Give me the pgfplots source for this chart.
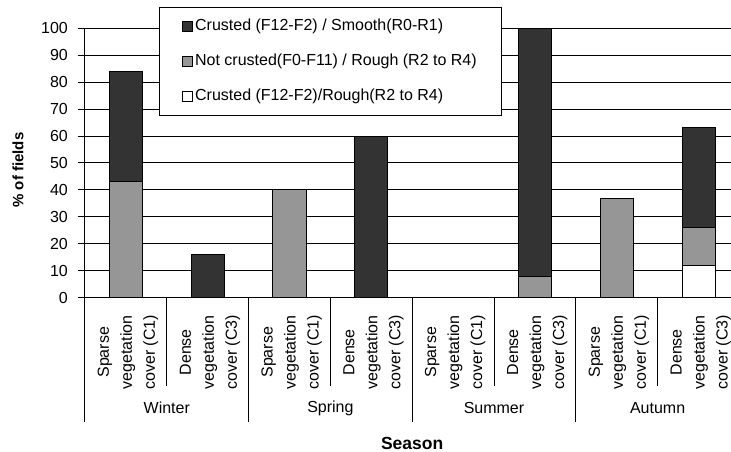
\documentclass[border=0pt]{standalone}
\usepackage{pgfplots}
\pgfplotsset{compat=1.18}
\usepackage{fontspec}
\setmainfont{Liberation Sans}
\definecolor{darkbar}{HTML}{333333}
\definecolor{greybar}{HTML}{969696}
\newcommand{\tl}[2]{\begin{tabular}{@{}c@{}}#1\\vegetation\\cover (#2)\end{tabular}}

\begin{document}
\begin{tikzpicture}[font=\fontsize{16}{19}\selectfont]
\begin{axis}[
  name=a,
  width=654.4pt, height=269.4pt, scale only axis,
  xmin=-0.5, xmax=7.5, ymin=0, ymax=100,
  clip=false,
  ybar stacked, bar width=33pt,
  axis x line*=bottom, axis y line*=left,
  axis line style={-, line width=1pt, black},
  xtick={0,...,7},
  xticklabels={
    {\tl{Sparse}{C1}},
    {\tl{Dense}{C3}},
    {\tl{Sparse}{C1}},
    {\tl{Dense}{C3}},
    {\tl{Sparse}{C1}},
    {\tl{Dense}{C3}},
    {\tl{Sparse}{C1}},
    {\tl{Dense}{C3}}},
  xtick style={draw=none},
  xticklabel style={xshift=1.5pt, yshift=-10pt, rotate=90, anchor=east, inner sep=0pt,
    font=\fontsize{16}{23}\selectfont},
  ytick={0,10,...,100},
  ytick style={line width=1pt, black},
  tick align=outside, major tick length=7pt,
  yticklabel style={font=\fontsize{16}{19}\selectfont, inner sep=2pt, xshift=-8pt},
  /pgf/number format/assume math mode=true,
  ymajorgrids, grid style={line width=1pt, black},
  ylabel={\% of fields},
  ylabel style={at={(axis description cs:-0.1024,0.474)}, anchor=center, rotate=0,
    font=\fontsize{15}{18}\selectfont\bfseries},
  xlabel={Season},
  xlabel style={at={(axis description cs:0.5,-0.54)}, anchor=center,
    font=\fontsize{17.5}{20}\selectfont\bfseries},
  legend style={at={(axis description cs:0.113,1.079)}, anchor=north west,
    draw=black, line width=0.8pt, fill=white,
    inner xsep=23pt, inner ysep=9pt, row sep=15pt,
    nodes={inner sep=2pt, text height=12pt, text depth=4pt},
    font=\fontsize{16}{19}\selectfont},
  legend cell align=left,
  reverse legend,
  legend image code/.code={\draw[#1, line width=0.8pt] (0pt,-5pt) rectangle (10pt,5pt);},
]
\addplot[fill=white, draw=black, line width=1pt] coordinates
  {(0,0) (1,0) (2,0) (3,0) (4,0) (5,0) (6,0) (7,12)};
\addlegendentry{Crusted (F12-F2)/Rough(R2 to R4)}
\addplot[fill=greybar, draw=black, line width=1pt] coordinates
  {(0,43) (1,0) (2,40) (3,0) (4,0) (5,7.7) (6,37) (7,14)};
\addlegendentry{Not crusted(F0-F11) / Rough (R2 to R4)}
\addplot[fill=darkbar, draw=black, line width=1pt] coordinates
  {(0,41) (1,16) (2,0) (3,60) (4,0) (5,92.3) (6,0) (7,37)};
\addlegendentry{Crusted (F12-F2) / Smooth(R0-R1)}

\pgfplotsinvokeforeach{0.5,2.5,4.5,6.5}{
  \draw[line width=1pt] (axis cs:#1,0) -- ([yshift=-88.3pt]axis cs:#1,0);
}
\pgfplotsinvokeforeach{-0.5,1.5,3.5,5.5,7.5}{
  \draw[line width=1pt] (axis cs:#1,0) -- ([yshift=-124pt]axis cs:#1,0);
}
\node at (axis cs:0.5,0) [yshift=-110.3pt] {Winter};
\node at (axis cs:2.5,0) [yshift=-110.3pt] {Spring};
\node at (axis cs:4.5,0) [yshift=-110.3pt] {Summer};
\node at (axis cs:6.5,0) [yshift=-110.3pt] {Autumn};
\end{axis}
\pgfresetboundingbox
\path ([shift={(-85pt,-154.3pt)}]a.south west) rectangle ++(731pt,452pt);
\end{tikzpicture}
\end{document}
